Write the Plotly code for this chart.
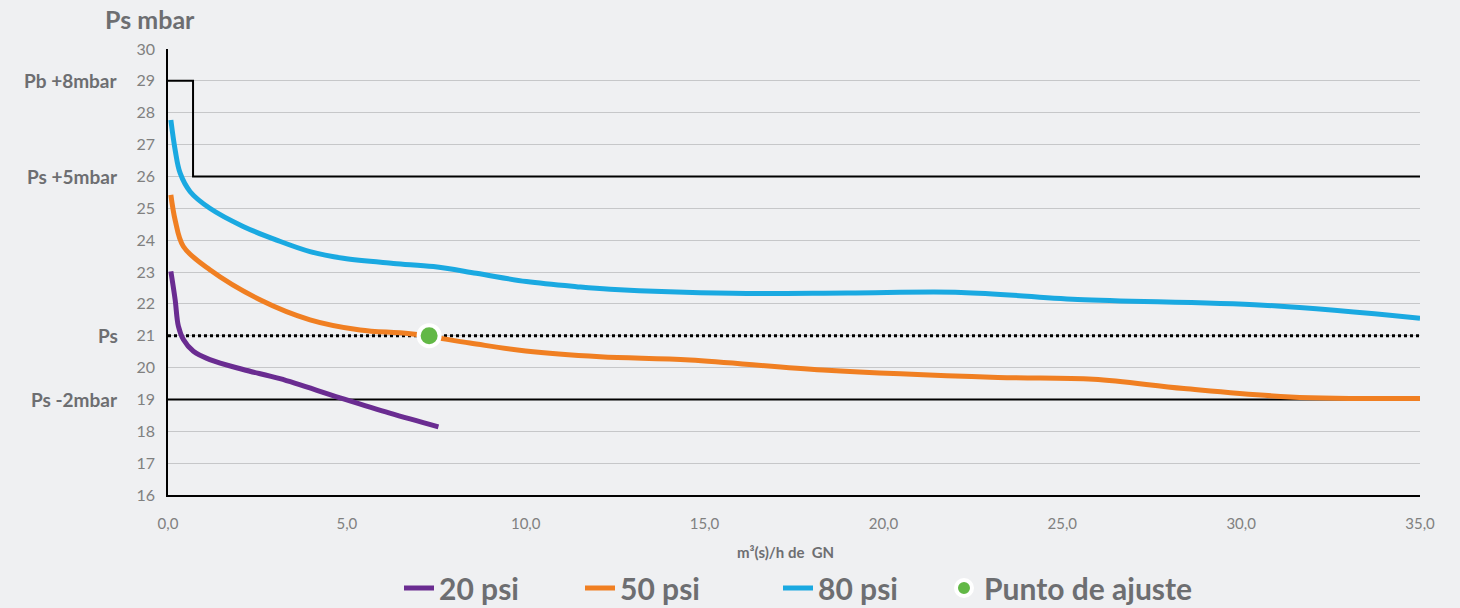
import plotly.graph_objects as go

# ---- data ----
x_20psi = [0.08, 0.2, 0.29, 0.43, 0.71, 1.17, 2.1, 3.13, 4.81, 6.2, 7.56]
y_20psi = [23.02, 22.13, 21.3, 20.88, 20.51, 20.25, 19.94, 19.65, 19.05, 18.57, 18.14]

x_50psi = [0.08, 0.2, 0.43, 1.17, 2.57, 3.97, 5.37, 6.77, 8.44, 10.0, 12.08,
           14.59, 18.31, 23.2, 25.87, 28.4, 31.37, 35.0]
y_50psi = [25.42, 24.63, 23.8, 23.07, 22.13, 21.5, 21.18, 21.06, 20.77, 20.52, 20.34,
           20.24, 19.92, 19.69, 19.63, 19.34, 19.08, 19.03]

x_80psi = [0.08, 0.2, 0.34, 0.62, 1.17, 2.1, 3.04, 3.97, 4.9, 6.3, 7.42, 8.62, 10.02,
           11.42, 12.36, 15.78, 19.0, 22.17, 25.43, 30.62, 35.0]
y_80psi = [27.77, 26.83, 26.1, 25.52, 25.0, 24.43, 24.0, 23.64, 23.43, 23.27, 23.17, 22.96, 22.7,
           22.54, 22.46, 22.33, 22.34, 22.36, 22.14, 21.96, 21.55]

set_point_x = [7.3]
set_point_y = [21.0]

limit_pb_x = [0, 0.7, 0.7, 35]
limit_pb_y = [29, 29, 26, 26]
ps_level = 21
ps_minus2 = 19

x_ticks = [0, 5, 10, 15, 20, 25, 30, 35]
x_ticktext = ["0,0", "5,0", "10,0", "15,0", "20,0", "25,0", "30,0", "35,0"]
y_ticks = list(range(16, 31))

ref_labels = ["Pb +8mbar", "Ps +5mbar", "Ps", "Ps -2mbar"]
ref_values = [29, 26, 21, 19]

# ---- figure ----
BG = "#eff0f2"
GRAY = "#6d6e71"
PL, PR, PT, PB = 168, 40, 49, 113
PW = 1460 - PL - PR
PH = 608 - PT - PB

fig = go.Figure()

fig.add_trace(go.Scatter(x=limit_pb_x, y=limit_pb_y, mode="lines",
                         line=dict(color="black", width=2), showlegend=False, hoverinfo="skip"))
fig.add_trace(go.Scatter(x=[0, 35], y=[ps_level, ps_level], mode="lines",
                         line=dict(color="black", width=3, dash="dot"), showlegend=False, hoverinfo="skip"))
fig.add_trace(go.Scatter(x=[0, 35], y=[ps_minus2, ps_minus2], mode="lines",
                         line=dict(color="black", width=2), showlegend=False, hoverinfo="skip"))

fig.add_trace(go.Scatter(x=x_20psi, y=y_20psi, mode="lines", name="20 psi", legend="legend",
                         line=dict(color="#6a2c91", width=5, shape="spline", smoothing=1.0)))
fig.add_trace(go.Scatter(x=x_50psi, y=y_50psi, mode="lines", name="50 psi", legend="legend2",
                         line=dict(color="#f07f22", width=5, shape="spline", smoothing=1.0)))
fig.add_trace(go.Scatter(x=x_80psi, y=y_80psi, mode="lines", name="80 psi", legend="legend3",
                         line=dict(color="#1aa9e1", width=5, shape="spline", smoothing=1.0)))
fig.add_trace(go.Scatter(x=set_point_x, y=set_point_y, mode="markers", name="Punto de ajuste",
                         legend="legend4",
                         marker=dict(color="#62b846", size=21, line=dict(color="white", width=4))))

for lab, val in zip(ref_labels, ref_values):
    fig.add_annotation(x=(120 - PL) / PW, xref="paper", y=val, yref="y", text=lab, showarrow=False,
                       xanchor="right", yanchor="middle",
                       font=dict(family="Lato", size=19, color=GRAY, weight="bold"))

fig.add_annotation(x=(103 - PL) / PW, xref="paper", y=1 + (PT - 19) / PH, yref="paper", text="Ps mbar",
                   showarrow=False, xanchor="left", yanchor="middle",
                   font=dict(family="Lato", size=25, color=GRAY, weight="bold"))

fig.add_annotation(x=(785 - PL) / PW, xref="paper", y=-(552 - (608 - PB)) / PH, yref="paper",
                   text="m³(s)/h de  GN", showarrow=False, xanchor="center", yanchor="middle",
                   font=dict(family="Lato", size=15, color=GRAY, weight="bold"))


def legend_at(px):
    return dict(orientation="h", x=(px - PL) / PW, xanchor="left",
                y=-(588 - (608 - PB)) / PH, yanchor="middle",
                font=dict(family="Lato", size=30, color=GRAY, weight="bold"),
                bgcolor="rgba(0,0,0,0)", itemsizing="trace")


fig.update_layout(
    width=1460, height=608,
    paper_bgcolor=BG, plot_bgcolor=BG,
    margin=dict(l=PL, r=PR, t=PT, b=PB, autoexpand=False),
    font=dict(family="Lato", color="#808080"),
    showlegend=True,
    legend=legend_at(399),
    legend2=legend_at(580),
    legend3=legend_at(778),
    legend4=legend_at(944),
    xaxis=dict(range=[0, 35], tickvals=x_ticks, ticktext=x_ticktext, showgrid=False,
               showline=True, linecolor="black", linewidth=1.5, zeroline=False,
               tickfont=dict(size=15, color="#808080"), ticks="", ticklabelstandoff=14),
    yaxis=dict(range=[16, 30], tickvals=y_ticks, showgrid=True, gridcolor="#c6c7c9", gridwidth=1,
               showline=True, linecolor="black", linewidth=1.5, zeroline=False,
               tickfont=dict(size=16, color="#808080"), ticks="", ticklabelstandoff=8),
)

fig.write_html(
    "out.html",
    config={"displayModeBar": False},
    post_script="document.body.style.margin='0';document.body.style.padding='0';"
                "document.body.style.overflow='hidden';document.body.style.background='" + BG + "';",
)
